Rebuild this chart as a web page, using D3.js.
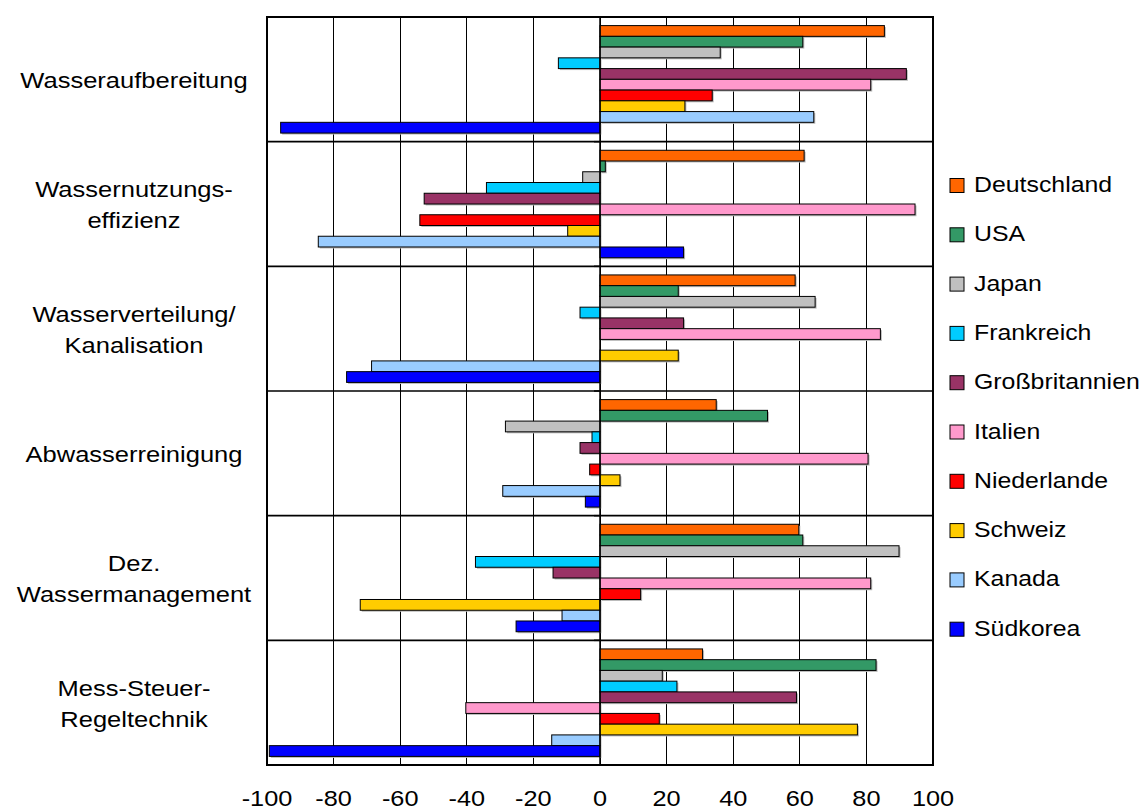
<!DOCTYPE html>
<html><head><meta charset="utf-8">
<script src="https://cdn.jsdelivr.net/npm/d3@7"></script>
<style>body{margin:0;background:#fff;} svg{display:block;font-family:"Liberation Sans",Arial,sans-serif;}</style>
</head><body>
<svg id="c" width="1144" height="812"></svg>
<script>
const categories = [
  ["Wasseraufbereitung"],
  ["Wassernutzungs-","effizienz"],
  ["Wasserverteilung/","Kanalisation"],
  ["Abwasserreinigung"],
  ["Dez.","Wassermanagement"],
  ["Mess-Steuer-","Regeltechnik"]
];
const seriesNames = ["Deutschland","USA","Japan","Frankreich","Großbritannien","Italien","Niederlande","Schweiz","Kanada","Südkorea"];
const seriesColors = ["#FF6600","#339966","#C0C0C0","#00CCFF","#993366","#FF99CC","#FF0000","#FFCC00","#99CCFF","#0000FF"];
// values per series, one per category
const deutschland   = [85.4, 61.3, 58.6, 34.9, 59.7, 30.8];
const usa           = [60.9, 1.6, 23.5, 50.3, 60.9, 82.9];
const japan         = [36.1, -5.2, 64.6, -28.4, 89.8, 18.7];
const frankreich    = [-12.5, -34.1, -6.0, -2.4, -37.4, 23.1];
const grossbritannien = [92.0, -52.8, 25.1, -6.0, -14.1, 59.0];
const italien       = [81.3, 94.6, 84.2, 80.5, 81.3, -40.3];
const niederlande   = [33.7, -54.1, 0, -3.1, 12.2, 17.8];
const schweiz       = [25.5, -9.7, 23.5, 6.0, -72.0, 77.3];
const kanada        = [64.2, -84.6, -68.6, -29.2, -11.4, -14.5];
const suedkorea     = [-95.9, 25.1, -76.1, -4.4, -25.2, -99.3];
const xTicks = [-100,-80,-60,-40,-20,0,20,40,60,80,100];

const seriesValues = [deutschland,usa,japan,frankreich,grossbritannien,italien,niederlande,schweiz,kanada,suedkorea];

const svg = d3.select("#c");
const L=267, R=933, T=17, B=765;
const FS = 22;
const x = d3.scaleLinear().domain([-100,100]).range([L,R]);
const y = d3.scaleBand().domain(d3.range(categories.length)).range([T,B]).padding(0);
const inner = d3.scaleBand().domain(d3.range(seriesNames.length))
  .range([8.6, y.bandwidth()-8.6]).padding(0);

function stretchedText(parent, tx, ty, str, anchor, sx){
  return parent.append("text")
    .attr("transform",`translate(${tx},${ty}) scale(${sx},1)`)
    .attr("text-anchor",anchor).attr("font-size",FS).attr("fill","#000").text(str);
}

// grid
svg.append("g").selectAll("line").data(xTicks).join("line")
  .attr("x1",d=>x(d)).attr("x2",d=>x(d)).attr("y1",T).attr("y2",B)
  .attr("stroke","#000").attr("stroke-width",1).attr("shape-rendering","crispEdges");
// category separators
svg.append("g").selectAll("line").data(d3.range(1,categories.length)).join("line")
  .attr("x1",L).attr("x2",R).attr("y1",d=>y(d)).attr("y2",d=>y(d))
  .attr("stroke","#000").attr("stroke-width",1.6);

// bars
const groups = svg.append("g").selectAll("g").data(categories).join("g")
  .attr("transform",(d,i)=>`translate(0,${y(i)})`);
groups.each(function(c,ci){
  const g=d3.select(this);
  seriesNames.forEach((s,si)=>{
    const v=seriesValues[si][ci];
    if(v===0) return;
    g.append("rect")
      .attr("x",Math.min(x(0),x(v))+1.5).attr("y",inner(si)+1.5)
      .attr("width",Math.abs(x(v)-x(0))).attr("height",inner.bandwidth())
      .attr("fill","#bbb");
    g.append("rect")
      .attr("x",Math.min(x(0),x(v))).attr("y",inner(si))
      .attr("width",Math.abs(x(v)-x(0))).attr("height",inner.bandwidth())
      .attr("fill",seriesColors[si]).attr("stroke","#000").attr("stroke-width",1);
  });
});

// y axis at zero with ticks
svg.append("g").selectAll("line").data(d3.range(categories.length+1)).join("line")
  .attr("x1",x(0)-6).attr("x2",x(0))
  .attr("y1",d=>d<categories.length?y(d):B).attr("y2",d=>d<categories.length?y(d):B)
  .attr("stroke","#000").attr("stroke-width",1.5);
svg.append("line").attr("x1",x(0)).attr("x2",x(0)).attr("y1",T).attr("y2",B)
  .attr("stroke","#000").attr("stroke-width",1.5);

// border
svg.append("rect").attr("x",L).attr("y",T).attr("width",R-L).attr("height",B-T)
  .attr("fill","none").attr("stroke","#000").attr("stroke-width",2);

// x tick labels
const tl = svg.append("g");
xTicks.forEach(d=>{ stretchedText(tl, x(d), 806, String(d), "middle", 1.15); });

// category labels
const lab = svg.append("g");
categories.forEach((lines,i)=>{
  const cy = y(i)+y.bandwidth()/2;
  const lh = 31;
  lines.forEach((ln,k)=>{
    stretchedText(lab, 134, cy + (k-(lines.length-1)/2)*lh + 8.5, ln, "middle", 1.16);
  });
});

// legend
const leg = svg.append("g");
seriesNames.forEach((s,i)=>{
  const ly = 185.5 + i*49.3;
  leg.append("rect").attr("x",950).attr("y",ly-7).attr("width",14).attr("height",14)
    .attr("fill",seriesColors[i]).attr("stroke","#000").attr("stroke-width",1);
  stretchedText(leg, 974, ly+6.5, s, "start", 1.13);
});
</script>
</body></html>
